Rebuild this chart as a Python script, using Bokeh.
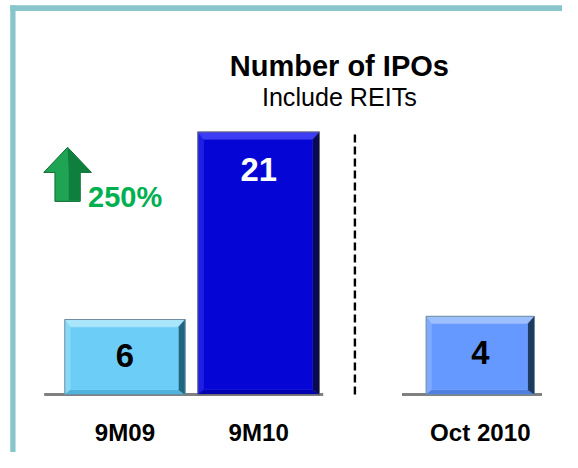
from bokeh.plotting import figure
from bokeh.models import Range1d
from bokeh.core.properties import value
from bokeh.embed import file_html
from bokeh.resources import INLINE

# ---------------- data ----------------
categories = ["9M09", "9M10", "Oct 2010"]
ipos = [6, 21, 4]
label_colors = ["black", "white", "black"]
title_text = "Number of IPOs"
subtitle_text = "Include REITs"
growth_pct = (ipos[1] / ipos[0] - 1) * 100
growth_label = f"{growth_pct:.0f}%"

# ---------------- layout / style ----------------
W_REF, H_REF = 578, 468   # design space (reference pixels)
W, H = 562, 452           # actual canvas (fits the window with 8px margins)
K = H / H_REF             # pixel-size scale for fonts / line widths
SX = 137.5        # design px per category slot
SY = 12.95        # design px per IPO (9M panel)
SY_OCT = 20.25    # design px per IPO (Oct panel, own scale)
BASE_PX = 408     # baseline, design px from top
X0 = -128 / SX
GROUP_GAP = 0.658
xs = [i + (GROUP_GAP if i >= 2 else 0) for i in range(len(categories))]
widths = [0.90, 0.91, 0.81]
palettes = [
    # top, left, face, bottom, right, outline
    ("#a9e6fc", "#8ad8f8", "#6ccdf6", "#4fb3dd", "#1f6680", "#6f8fa0"),
    ("#3c3cf5", "#1d1de8", "#0505d6", "#0303b0", "#0a0a50", "#707070"),
    ("#9dbfff", "#80aaff", "#6699ff", "#4e80e0", "#1d3a5e", "#6f8fa0"),
]
FONT = value("Liberation Sans")

def fs(px):
    return f"{px * K:.1f}px"

p = figure(width=W, height=H,
           x_range=Range1d(X0, X0 + W_REF / SX),
           y_range=Range1d(-(H_REF - BASE_PX) / SY, BASE_PX / SY),
           output_backend="svg", toolbar_location=None,
           x_axis_location=None, y_axis_location=None,
           min_border=0, outline_line_color=None)
p.extra_y_ranges = {"oct": Range1d(-(H_REF - BASE_PX) / SY_OCT, BASE_PX / SY_OCT)}
p.grid.visible = False
p.background_fill_color = "white"
p.border_fill_color = "white"

def cy(px, sy=SY):
    return (BASE_PX - px) / sy

def cx(px):
    return X0 + px / SX

# frame (left + top sides)
p.segment(x0=[cx(12.75)], y0=[cy(5)], x1=[cx(12.75)], y1=[p.y_range.start],
          line_color="#89c6cc", line_width=5.5 * K)
p.segment(x0=[cx(10)], y0=[cy(8)], x1=[p.x_range.end], y1=[cy(8)],
          line_color="#89c6cc", line_width=6 * K)

# baselines
p.segment(x0=[xs[0] - 0.604, xs[2] - 0.586], y0=[0, 0],
          x1=[xs[1] + 0.483, xs[2] + 0.462], y1=[0, 0],
          line_color="#808080", line_width=3 * K)

# bevelled bars
for i, (x, v, w, pal) in enumerate(zip(xs, ipos, widths, palettes)):
    rng = "oct" if i >= 2 else "default"
    sy = SY_OCT if i >= 2 else SY
    top_c, left_c, face_c, bot_c, right_c, out_c = pal
    L, R = x - w / 2, x + w / 2
    tb, bb = 8 / sy, 5 / sy
    lb, rb = 6 / SX, 7 / SX
    kw = dict(y_range_name=rng) if rng != "default" else {}
    bands_x = [
        [L, R, R - rb, L + lb],                  # top
        [L, L + lb, L + lb, L],                  # left
        [L, L + lb, R - rb, R],                  # bottom
        [R, R, R - rb, R - rb],                  # right
        [L + lb, R - rb, R - rb, L + lb],        # face
    ]
    bands_y = [
        [v, v, v - tb, v - tb],
        [v, v - tb, bb, 0],
        [0, bb, bb, 0],
        [v, 0, bb, v - tb],
        [v - tb, v - tb, bb, bb],
    ]
    p.patches(xs=bands_x, ys=bands_y,
              fill_color=[top_c, left_c, bot_c, right_c, face_c],
              line_color=[top_c, left_c, bot_c, right_c, face_c], line_width=0.5, **kw)
    p.quad(left=[L], right=[R], top=[v], bottom=[0], fill_color=None,
           line_color=out_c, line_width=1, **kw)
    off = 39 if v == max(ipos) else 37
    p.text(x=[x], y=[v - off / sy], text=[str(v)], text_font=FONT,
           text_font_size=fs(34), text_font_style="bold", text_align="center",
           text_baseline="middle", text_color=label_colors[i], **kw)

# category labels
p.text(x=xs, y=[cy(447)] * len(xs), text=categories, text_font=FONT,
       text_font_size=fs(25), text_font_style="bold", text_align="center",
       text_baseline="middle", text_color="black")

# dashed divider
p.segment(x0=[xs[1] + 0.72], y0=[0], x1=[xs[1] + 0.72], y1=[cy(135)],
          line_color="black", line_width=2.5 * K, line_dash="8 4")

# title
tx = cx(348.5)
p.text(x=[tx], y=[cy(68)], text=[title_text], text_font=FONT, text_font_size=fs(30),
       text_font_style="bold", text_align="center", text_baseline="alphabetic",
       text_color="black")
p.text(x=[tx], y=[cy(100)], text=[subtitle_text], text_font=FONT, text_font_size=fs(26),
       text_align="center", text_baseline="alphabetic", text_color="black")

# growth arrow
ax = cx(69)
sh, hh = 13 / SX, 24.5 / SX
arrow_x = [ax - sh, ax - sh, ax - hh, ax, ax + hh, ax + sh, ax + sh]
arrow_y = [cy(208), cy(178), cy(178), cy(152), cy(178), cy(178), cy(208)]
p.patch(x=arrow_x, y=arrow_y, fill_color="#1fa454", line_color="#0e6b34", line_width=1)
p.patch(x=[ax + sh * 0.1, ax + sh * 0.1, ax, ax + hh, ax + sh, ax + sh],
        y=[cy(207), cy(178), cy(153), cy(178), cy(178), cy(207)],
        fill_color="#0f7f3e", line_color=None)
p.text(x=[cx(90)], y=[cy(203)], text=[growth_label], text_font=FONT,
       text_font_size=fs(30), text_font_style="bold", text_align="left",
       text_baseline="alphabetic", text_color="#00b050")

open("out.html", "w").write(file_html(p, INLINE))
